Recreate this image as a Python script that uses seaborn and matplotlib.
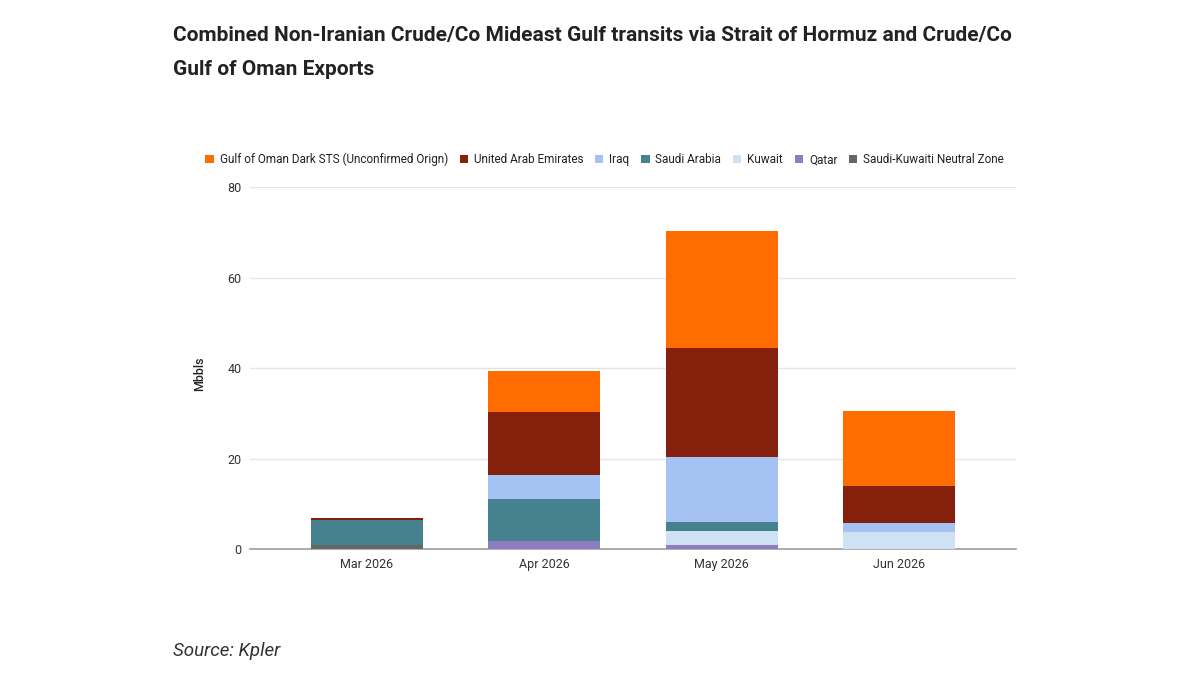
import matplotlib.pyplot as plt
import seaborn as sns
import pandas as pd
import numpy as np
from matplotlib.patches import Patch

sns.set_theme(style="white")
plt.rcParams['font.family'] = ['Roboto', 'DejaVu Sans']

months = ['Mar 2026', 'Apr 2026', 'May 2026', 'Jun 2026']

# stacked bottom -> top
series_names = [
    'Saudi-Kuwaiti Neutral Zone',
    'Qatar',
    'Kuwait',
    'Saudi Arabia',
    'Iraq',
    'United Arab Emirates',
    'Gulf of Oman Dark STS (Unconfirmed Orign)',
]
neutral_zone = [1.0, 0.0, 0.0, 0.0]
qatar = [0.0, 1.9, 0.9, 0.0]
kuwait = [0.0, 0.0, 3.2, 3.8]
saudi_arabia = [5.4, 9.3, 1.9, 0.0]
iraq = [0.0, 5.1, 14.3, 1.95]
uae = [0.5, 14.0, 24.1, 8.15]
dark_sts = [0.0, 9.0, 25.9, 16.6]

series_values = [neutral_zone, qatar, kuwait, saudi_arabia, iraq, uae, dark_sts]
colors = ['#666666', '#8e7cc3', '#cfe2f3', '#45818e', '#a4c2f4', '#85200c', '#ff6d01']


def plot_hormuz():
    df = pd.DataFrame(dict(zip(series_names, series_values)), index=months)
    cum = df.cumsum(axis=1)

    fig = plt.figure(figsize=(12, 6.84), dpi=100)
    ax = fig.add_axes([0.2083, 0.197, 0.6384, 0.5296])

    # draw cumulative totals from the top layer down
    for name, color in reversed(list(zip(series_names, colors))):
        sns.barplot(x=months, y=cum[name].values, color=color, width=0.63,
                    saturation=1, linewidth=0, ax=ax, zorder=3)

    ax.set_ylim(0, 80)
    ax.set_yticks([0, 20, 40, 60, 80])
    ax.set_xlim(-0.66, 3.66)
    ax.yaxis.grid(True, color='#e6e6e6', linewidth=1, zorder=0)
    ax.set_axisbelow(True)
    for s in ['top', 'right', 'left']:
        ax.spines[s].set_visible(False)
    ax.spines['bottom'].set_color('#9e9e9e')
    ax.spines['bottom'].set_linewidth(1.2)
    ax.spines['bottom'].set_zorder(2)
    ax.tick_params(axis='both', length=0, labelsize=9, labelcolor='#333333', pad=6)
    ax.tick_params(axis='y', pad=6)
    ax.set_xlabel('')
    ax.set_ylabel('')
    fig.text(200 / 1200, 1 - 374 / 684, 'Mbbls', rotation=90, fontsize=9,
             fontweight='medium', color='#222222', ha='center', va='center')

    handles = [Patch(facecolor=c, edgecolor='none', label=n)
               for n, c in reversed(list(zip(series_names, colors)))]
    fig.legend(handles=handles, loc='center', bbox_to_anchor=(0.504, 0.767),
               ncol=7, frameon=False, fontsize=8.5, handlelength=0.7,
               handleheight=0.7, handletextpad=0.5, columnspacing=1.0,
               labelcolor='#222222')

    fig.text(0.144, 0.948, 'Combined Non-Iranian Crude/Co Mideast Gulf transits via Strait of Hormuz and Crude/Co',
             fontsize=15, fontweight='bold', color='#222222', va='center')
    fig.text(0.144, 0.899, 'Gulf of Oman Exports',
             fontsize=15, fontweight='bold', color='#222222', va='center')
    fig.text(0.144, 0.048, 'Source: Kpler', fontsize=13.5, style='italic',
             color='#333333', va='center')

    fig.savefig('out.png', dpi=100)


if __name__ == "__main__":
    plot_hormuz()
